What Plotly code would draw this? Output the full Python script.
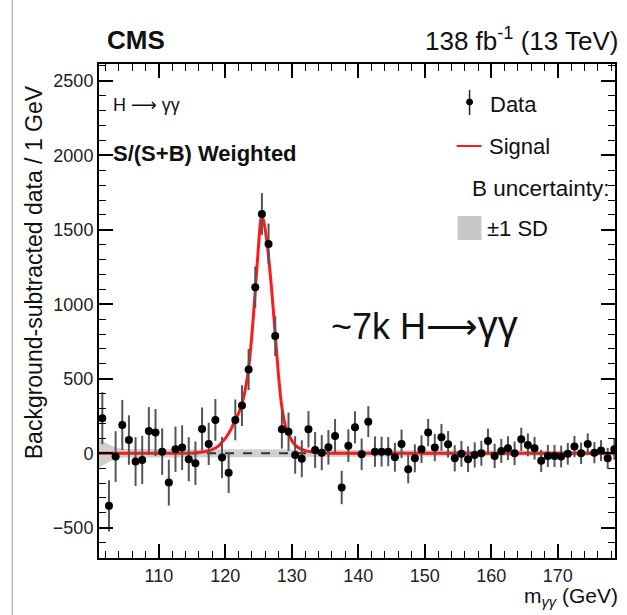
import numpy as np
import plotly.graph_objects as go

# ---------------- data ----------------
mass = np.arange(101.5, 179.0, 1.0)  # bin centres (1 GeV bins)

data_vals = [235, -353, -22, 190, 89, -56, -45, 150, 139,
             11, -197, 27, 38, -40, -67, 163, 63, 224, -29,
             -130, 224, 320, 562, 1114, 1606, 1405, 787, 161, 145,
             -11, -37, 161, 22, 4, 40, 116, -230, 51, 174,
             -7, 212, 11, 11, 11, -27, 63, -107, -34, 27,
             139, 38, 107, 60, -34, -4, -40, -11, 0, 83,
             -18, 16, 34, 0, 94, 56, 34, -51, -18, -18,
             -22, -4, 45, 0, 63, 4, 18, -34, 27]

data_err = [175, 172, 170, 168, 166, 164, 162, 160, 158,
            156, 154, 152, 150, 148, 146, 144, 142, 140, 138,
            137, 137, 137, 138, 140, 140, 137, 134, 130, 128,
            126, 124, 122, 120, 118, 116, 114, 112, 110, 108,
            106, 104, 102, 100, 98, 97, 96, 95, 94, 93,
            92, 91, 90, 89, 88, 87, 86, 85, 84, 83,
            82, 81, 80, 79, 78, 77, 76, 75, 74, 74,
            73, 73, 72, 72, 71, 71, 70, 70, 70]

sig_x = [101, 110, 115, 116, 117, 118, 119, 119.5, 120, 120.5, 121, 121.5, 122,
         122.5, 123, 123.5, 124, 124.5, 125, 125.3, 125.5, 125.7, 126, 126.5,
         127, 127.5, 128, 128.5, 129, 129.5, 130, 130.5, 131, 132, 133, 134,
         135, 136, 150, 178.6]
sig_y = [0, 0, 2, 5, 12, 25, 50, 75, 100, 135, 175, 225, 270,
         330, 430, 570, 800, 1090, 1400, 1560, 1590, 1570, 1500, 1320,
         1080, 800, 520, 310, 190, 130, 85, 55, 38, 18, 8, 4,
         2, 0, 0, 0]

band_x = [101, 102, 103, 104, 105, 110, 120, 130, 140, 150, 160, 170, 178.6]
band_half = [95, 70, 48, 34, 29, 28, 27, 26, 23, 21, 19, 17, 16]

x_range = [101, 178.6]
y_range = [-703, 2613]

# ---------------- figure ----------------
fig = go.Figure()

# background uncertainty band
bx = list(band_x) + list(band_x[::-1])
by = [h for h in band_half] + [-h for h in band_half[::-1]]
fig.add_trace(go.Scatter(x=bx, y=by, fill="toself", mode="none",
                         fillcolor="rgba(200,200,200,0.85)", hoverinfo="skip",
                         showlegend=False))

# zero dashed line (background)
fig.add_trace(go.Scatter(x=x_range, y=[0, 0], mode="lines",
                         line=dict(color="#333333", width=2, dash="dash"),
                         showlegend=False))

# signal
fig.add_trace(go.Scatter(x=sig_x, y=sig_y, mode="lines",
                         line=dict(color="#ff1a1a", width=3, shape="spline", smoothing=0.6),
                         showlegend=False))

# data
fig.add_trace(go.Scatter(x=mass, y=data_vals, mode="markers",
                         marker=dict(color="black", size=8),
                         error_y=dict(type="data", array=data_err, visible=True,
                                      color="#555555", thickness=2, width=0),
                         showlegend=False))

font_family = "Liberation Sans, Arial, Helvetica, sans-serif"

axis_common = dict(showline=True, linecolor="black", linewidth=2, mirror="allticks",
                   ticks="inside", ticklen=14, tickwidth=1.5, tickcolor="black",
                   showgrid=False, zeroline=False,
                   tickfont=dict(family=font_family, size=18, color="#222"))

fig.update_xaxes(range=x_range, dtick=10, tick0=0,
                 minor=dict(ticks="inside", ticklen=7, dtick=2, tickcolor="black", tickwidth=1.2),
                 **axis_common)
fig.update_yaxes(range=y_range, dtick=500, tick0=0,
                 minor=dict(ticks="inside", ticklen=7, dtick=100, tickcolor="black", tickwidth=1.2),
                 **axis_common)

W, H = 627, 615
L, R, T, B = 99, 10, 64, 57
pw, ph = W - L - R, H - T - B

def px(x):
    return (x - L) / pw

def py(y):
    return (H - B - y) / ph

ann = []
def text(x, y, s, size, xanchor="left", bold=False, yanchor="middle", textangle=0):
    ann.append(dict(x=px(x), y=py(y), xref="paper", yref="paper", text=(f"<b>{s}</b>" if bold else s),
                    showarrow=False, xanchor=xanchor, yanchor=yanchor, textangle=textangle,
                    font=dict(family=font_family, size=size, color="#111")))

ARROW = "<span style='font-family:DejaVu Sans'>⟶</span>"
text(105, 40, "CMS", 26, bold=True)
text(622, 40, "138 fb<sup>-1</sup> (13 TeV)", 26, xanchor="right")
text(111, 104, f"H {ARROW} γγ", 18)
text(111, 153, "S/(S+B) Weighted", 22, bold=True)
text(490, 104, "Data", 22)
text(489, 146, "Signal", 22)
text(614, 188, "B uncertainty:", 22.5, xanchor="right")
text(486, 228, "±1 SD", 22)
text(330, 325, "~7k H<span style='font-family:DejaVu Sans'>⟶</span>"
               "<span style='font-size:40px'>γγ</span>", 36)
text(34, 272, "Background-subtracted data / 1 GeV", 23, xanchor="center", textangle=-90)
text(622, 597, "m<sub><i>γγ</i></sub> (GeV)", 21, xanchor="right")

shapes = []
# page border line on the left
shapes.append(dict(type="line", xref="paper", yref="paper", x0=px(12), x1=px(12),
                   y0=py(0), y1=py(615), line=dict(color="#bbbbbb", width=1.5)))
# legend: data marker with error bar
shapes.append(dict(type="line", xref="paper", yref="paper", x0=px(471), x1=px(471),
                   y0=py(90), y1=py(115), line=dict(color="#222", width=1.5)))
shapes.append(dict(type="circle", xref="paper", yref="paper", x0=px(468), x1=px(474),
                   y0=py(99), y1=py(105), fillcolor="black", line=dict(color="black", width=1)))
# legend: signal line
shapes.append(dict(type="line", xref="paper", yref="paper", x0=px(458), x1=px(483),
                   y0=py(146), y1=py(146), line=dict(color="#ff1a1a", width=2)))
# legend: band box
shapes.append(dict(type="rect", xref="paper", yref="paper", x0=px(459), x1=px(483),
                   y0=py(216), y1=py(240), fillcolor="#c8c8c8", line=dict(width=0)))

fig.update_layout(width=W, height=H, margin=dict(l=L, r=R, t=T, b=B),
                  paper_bgcolor="white", plot_bgcolor="white",
                  annotations=ann, shapes=shapes, showlegend=False,
                  font=dict(family=font_family))

fig.write_html("out.html")
